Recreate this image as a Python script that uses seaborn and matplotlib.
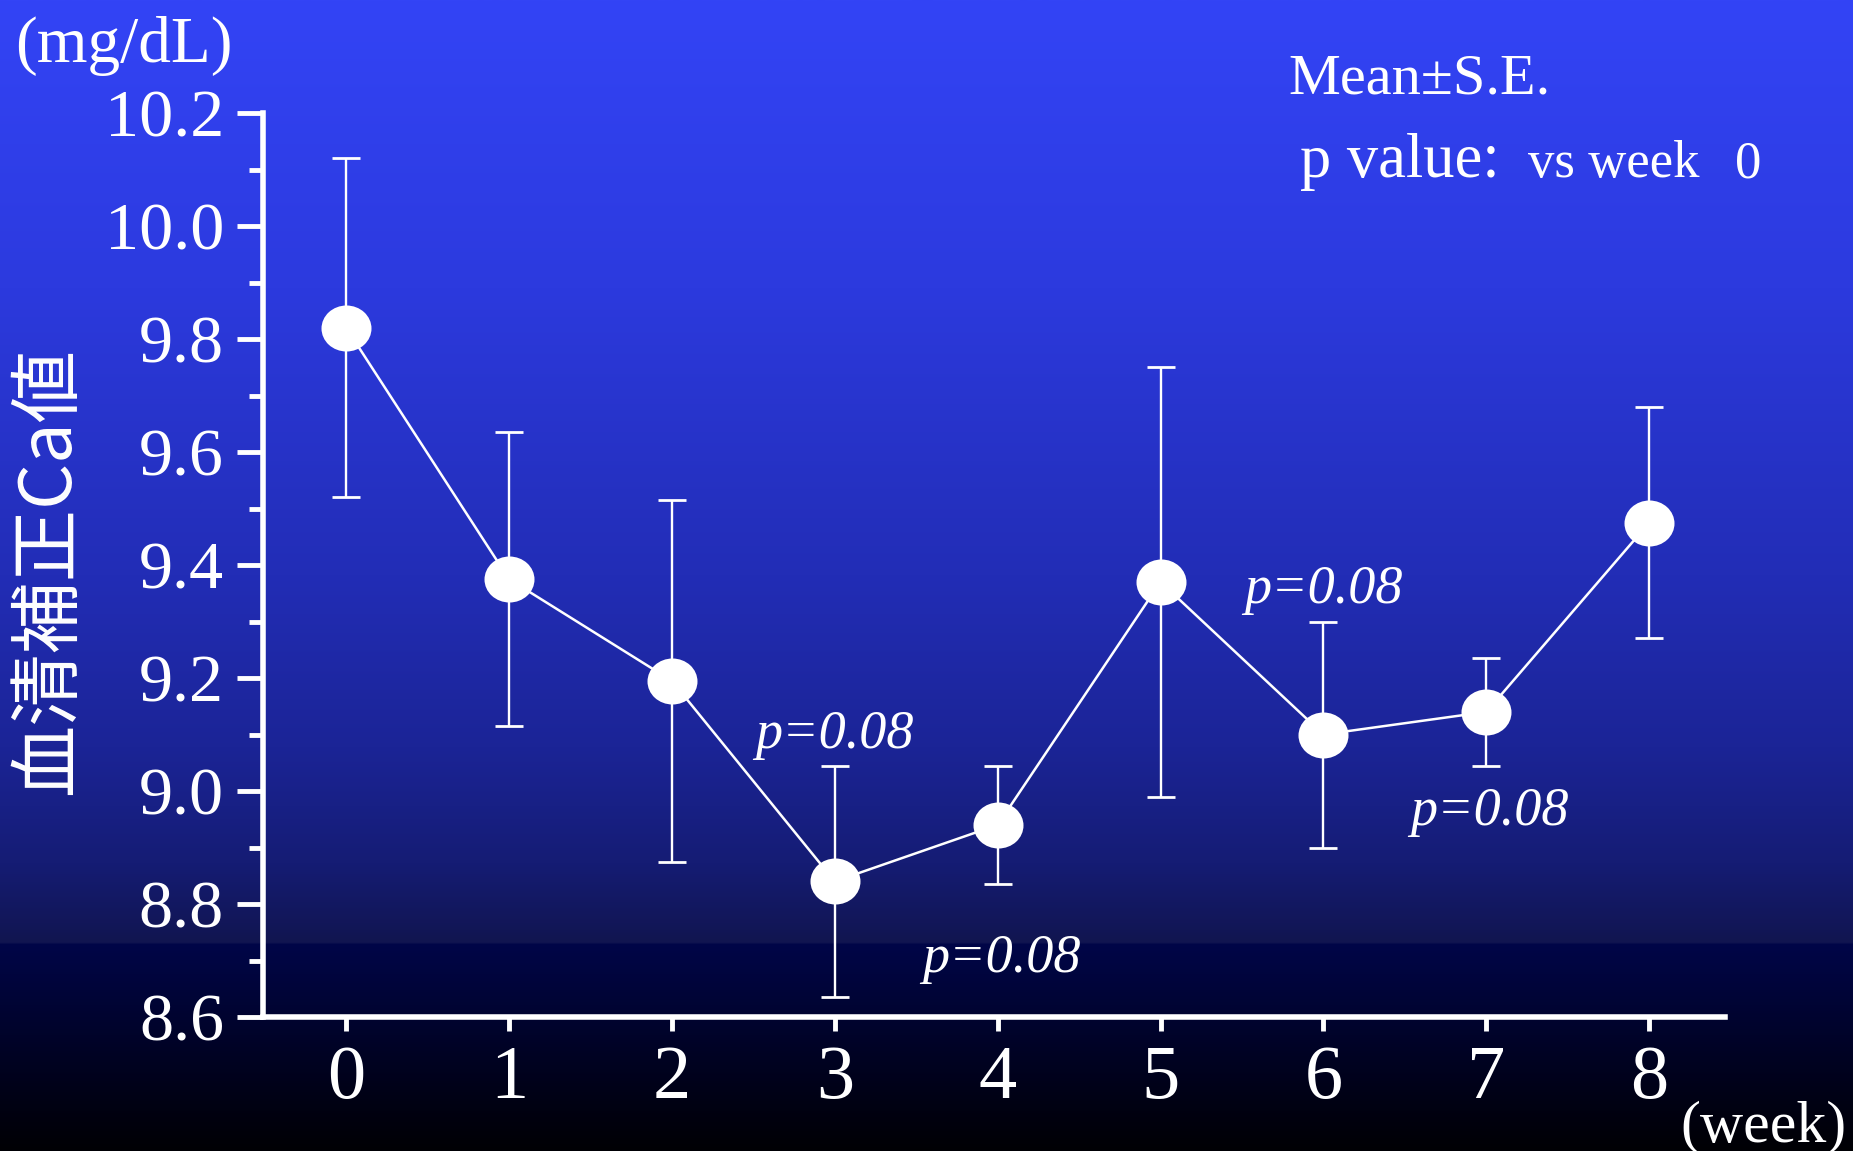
import numpy as np
import pandas as pd
import matplotlib
matplotlib.use("Agg")
import matplotlib.pyplot as plt
from matplotlib.path import Path
from matplotlib.transforms import Affine2D
from matplotlib.colors import LinearSegmentedColormap
import seaborn as sns

# ---- data ----
weeks = [0, 1, 2, 3, 4, 5, 6, 7, 8]
ca_mean = [9.82, 9.375, 9.195, 8.84, 8.94, 9.37, 9.10, 9.14, 9.475]
ca_se = [0.30, 0.26, 0.32, 0.205, 0.105, 0.38, 0.20, 0.095, 0.205]
y_ticks = [8.6, 8.8, 9.0, 9.2, 9.4, 9.6, 9.8, 10.0, 10.2]
y_ticklabels = ["8.6", "8.8", "9.0", "9.2", "9.4", "9.6", "9.8", "10.0", "10.2"]
x_ticklabels = ["0", "1", "2", "3", "4", "5", "6", "7", "8"]
p_labels = ["p=0.08", "p=0.08", "p=0.08", "p=0.08"]
p_xpos = [3.00, 4.02, 6.00, 7.02]
p_ypos = [9.076, 8.680, 9.333, 8.940]

df = pd.DataFrame({"week": weeks, "ca": ca_mean, "se": ca_se})

sns.set_style("ticks")
plt.rcParams["font.family"] = ["Liberation Serif", "Noto Sans CJK JP", "DejaVu Sans"]

W, H = 1853, 1151
fig = plt.figure(figsize=(W / 100, H / 100), dpi=100)

# vertical blue-to-black background
bg = fig.add_axes([0, 0, 1, 1], zorder=-5)
stops = [
    (0.00, (51, 68, 246)),
    (0.25, (44, 58, 222)),
    (0.50, (34, 45, 182)),
    (0.65, (27, 36, 150)),
    (0.75, (21, 28, 116)),
    (0.819, (17, 21, 80)),
    (0.821, (0, 6, 72)),
    (0.90, (0, 3, 42)),
    (1.00, (0, 0, 4)),
]
cmap = LinearSegmentedColormap.from_list(
    "bg", [(p, tuple(c / 255 for c in rgb)) for p, rgb in stops], N=1024
)
grad = np.linspace(0, 1, 1151).reshape(-1, 1)
bg.imshow(grad, aspect="auto", cmap=cmap, extent=[0, 1, 0, 1], origin="upper")
bg.set_axis_off()

ax = fig.add_axes([263 / W, 134 / H, (1725 - 263) / W, (1017 - 113) / H])
ax.set_facecolor("none")

# error bars (mean ± SE)
ax.errorbar(df["week"], df["ca"], yerr=df["se"], fmt="none", ecolor="white",
            elinewidth=1.7, capsize=10, capthick=2.0, zorder=2)

# slightly oval marker
oval = Path.unit_circle().transformed(Affine2D().scale(1.0, 0.92))
sns.lineplot(data=df, x="week", y="ca", ax=ax, color="white", linewidth=1.8,
             marker=oval, markersize=36, markeredgewidth=0, zorder=3)

ax.set_xlim(-0.51, 8.465)
ax.set_ylim(8.6, 10.2)
ax.set_xticks(weeks)
ax.set_xticklabels(x_ticklabels)
ax.set_yticks(y_ticks)
ax.set_yticklabels(y_ticklabels)
ax.set_yticks(np.arange(8.7, 10.2, 0.2), minor=True)
ax.set_xlabel("")
ax.set_ylabel("")

for s in ["top", "right"]:
    ax.spines[s].set_visible(False)
for s in ["left", "bottom"]:
    ax.spines[s].set_color("white")
    ax.spines[s].set_linewidth(4)
    ax.spines[s].set_capstyle("projecting")

ax.tick_params(axis="y", which="major", direction="out", length=19, width=3.5,
               color="white", labelcolor="white", labelsize=49, pad=9)
ax.tick_params(axis="y", which="minor", direction="out", length=10, width=3.5,
               color="white")
ax.tick_params(axis="x", which="major", direction="out", length=10, width=3.5,
               color="white", labelcolor="white", labelsize=55, pad=10)

# significance labels
for xp, yp, lab in zip(p_xpos, p_ypos, p_labels):
    ax.text(xp, yp, lab, ha="center", va="baseline", color="white",
            fontsize=39, fontstyle="italic", zorder=5)


def ftext(px, py, s, **kw):
    fig.text(px / W, 1 - py / H, s, color="white", **kw)


ftext(15, 62, "(mg/dL)", fontsize=47, ha="left", va="baseline")
ftext(1288, 94, "Mean\u00b1S.E.", fontsize=42, ha="left", va="baseline")
ftext(1300, 177, "p value:", fontsize=45, ha="left", va="baseline")
ftext(1528, 177, "vs week", fontsize=38, ha="left", va="baseline")
ftext(1735, 177, "0", fontsize=38, ha="left", va="baseline")
ftext(1680, 1141, "(week)", fontsize=43, ha="left", va="baseline")
ftext(49, 571, "血清補正Ca値", fontsize=52, ha="center", va="center",
      rotation=90, family=["Noto Sans CJK JP", "DejaVu Sans"])

fig.savefig("out.png", dpi=100)
